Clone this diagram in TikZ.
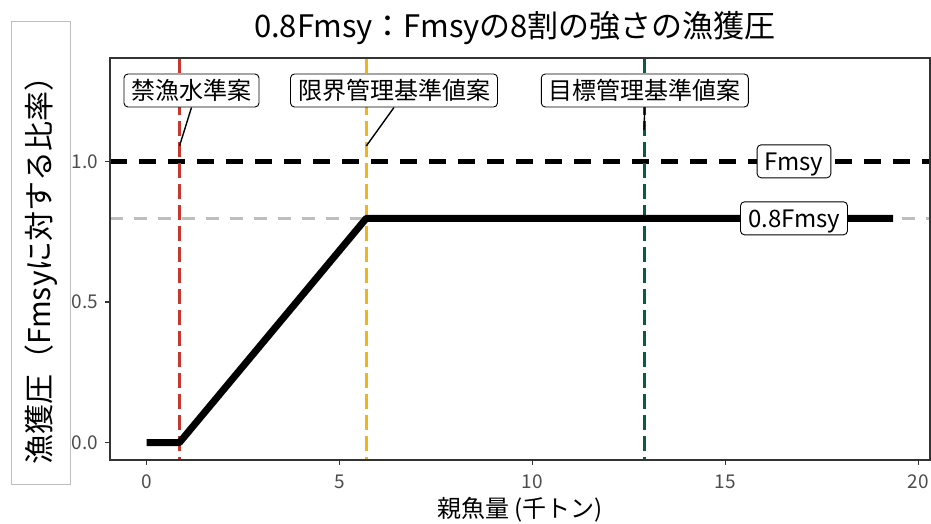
\documentclass[tikz,border=0pt]{standalone}
\usepackage{fontspec}
\setmainfont{Noto Sans CJK JP}
\definecolor{cred}{HTML}{C8372D}
\definecolor{cyel}{HTML}{F0B619}
\definecolor{cgrn}{HTML}{0B5A46}
\definecolor{tickgrey}{HTML}{4D4D4D}
\definecolor{axgrey}{HTML}{333333}
\definecolor{refgrey}{HTML}{BEBEBE}
\begin{document}
\begin{tikzpicture}[x=1pt,y=-1pt,
  cjklbl/.style={draw=black, fill=white, rounded corners=4pt, line width=0.9pt,
    inner xsep=7.5pt, inner ysep=0pt, minimum height=33pt,
    font=\fontsize{24}{28}\selectfont, text height=21.1pt, text depth=2.9pt},
  latlbl/.style={cjklbl, text height=17.6pt, text depth=0pt},
  xtick/.style={font=\fontsize{19}{21}\selectfont, text=tickgrey, inner sep=0pt,
    text height=13.9pt, text depth=0pt},
  ytick/.style={xtick, anchor=east},
  tickline/.style={axgrey, line width=1.1pt},
  vline/.style={line width=3pt, dash pattern=on 15pt off 6pt},
  leader/.style={black, line width=1.4pt}]
\useasboundingbox (0,0) rectangle (931,523);
% coordinates of panel
\coordinate (pTL) at (110,58);
\coordinate (pBR) at (930,460);
\begin{scope}
\clip (110,58) rectangle (930,460);
\draw[refgrey, line width=2.6pt, dash pattern=on 13pt off 11pt] (110,218.3) -- (930,218.3);
\draw[black, line width=4.5pt, dash pattern=on 17pt off 12pt] (110,161.5) -- (930,161.5);
\draw[vline, cred] (179.5,58) -- (179.5,460);
\draw[vline, cyel] (366.3,58) -- (366.3,460);
\draw[vline, cgrn] (644,58) -- (644,460);
\draw[black, line width=7pt, line join=round] (146.5,442.5) -- (179.5,442.5) -- (366.3,218.3) -- (893,218.3);
\end{scope}
\draw[axgrey, line width=1.1pt] (pTL) rectangle (pBR);
% ticks
\foreach \v/\x in {0/146.3,5/339.3,10/532.3,15/725.3,20/918.3}{
  \draw[tickline] (\x,460) -- (\x,465);
  \node[xtick] (xt\v) at (\x,481.5) {\v};
}
\foreach \n/\l/\y in {a/0.0/442.5,b/0.5/302,c/1.0/161.5}{
  \draw[tickline] (110,\y) -- (105,\y);
  \node[ytick] (yt\n) at (98.5,\y) {\l};
}
% leader end points
\coordinate (e1) at (179.5,146);
\coordinate (e2) at (366.3,146);
\coordinate (e3) at (644,130);
\node[cjklbl] (lab1) at (191.5,90.5) {禁漁水準案};
\node[cjklbl] (lab2) at (394,90.5) {限界管理基準値案};
\node[cjklbl] (lab3) at (644.8,90.5) {目標管理基準値案};
\draw[leader] (lab1.south) -- (e1);
\draw[leader] (lab2.south) -- (e2);
\draw[leader] (lab3.south) -- (e3);
\node[latlbl] (fmsy) at (794,161.3) {Fmsy};
\node[latlbl] (f08) at (794,218.3) {0.8Fmsy};
% title and axis titles
\node[font=\fontsize{31}{34}\selectfont, inner sep=0pt, anchor=base] (title) at (515,37) {0.8Fmsy：Fmsyの8割の強さの漁獲圧};
\node[font=\fontsize{24}{28}\selectfont, inner sep=0pt, text height=21.1pt, text depth=2.9pt] (xlab) at (520,508) {親魚量 (千トン)};
\draw[refgrey, line width=0.8pt] (11,21) rectangle (70,484);
\node[font=\fontsize{30}{32}\selectfont, inner sep=0pt, text height=26.4pt, text depth=3.6pt, rotate=90] (ylab) at (39,263) {漁獲圧（Fmsyに対する比率）};
\end{tikzpicture}
\end{document}
